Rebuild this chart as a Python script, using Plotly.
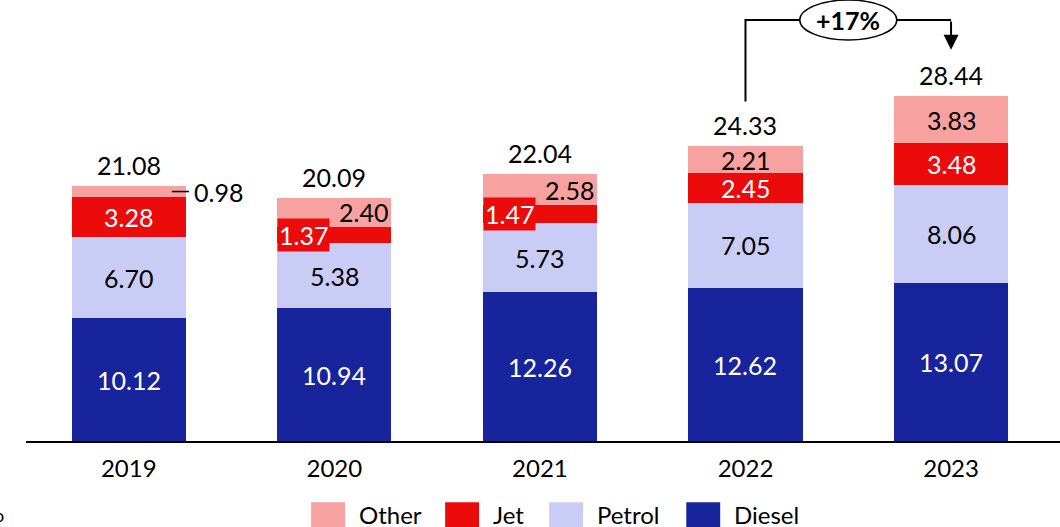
import plotly.graph_objects as go

# --- data ---
years = ["2019", "2020", "2021", "2022", "2023"]
diesel = [10.12, 10.94, 12.26, 12.62, 13.07]
petrol = [6.70, 5.38, 5.73, 7.05, 8.06]
jet = [3.28, 1.37, 1.47, 2.45, 3.48]
other = [0.98, 2.40, 2.58, 2.21, 3.83]
totals = [21.08, 20.09, 22.04, 24.33, 28.44]
growth_label = "+17%"

FONT = "Lato"
BAR_W = 0.555
LABEL_SIZE = 25

# name, values, colour, label colour (stack order bottom -> top)
series = [
    ("Diesel", diesel, "#18249b", "white"),
    ("Petrol", petrol, "#c9ccf4", "black"),
    ("Jet", jet, "#ec0b0b", "white"),
    ("Other", other, "#f7a1a1", "black"),
]

# segments whose label does not sit in the middle of the bar
special = {
    ("Jet", 1): "left_box",
    ("Jet", 2): "left_box",
    ("Other", 1): "right",
    ("Other", 2): "right",
    ("Other", 0): "outside",
}

x = list(range(len(years)))
fig = go.Figure()
for name, vals, color, _ in series:
    fig.add_trace(go.Bar(
        x=x, y=vals, name=name, width=BAR_W,
        marker={"color": color, "line": {"width": 0}},
        hoverinfo="skip", showlegend=False,
    ))

annotations = []
shapes = []

# segment labels
base = [0.0] * len(years)
for name, vals, color, txt_color in series:
    for i, v in enumerate(vals):
        mid = base[i] + v / 2
        mode = special.get((name, i), "center")
        txt = f"{v:.2f}"
        if mode == "center":
            annotations.append(dict(x=i, y=mid, text=txt, showarrow=False,
                                    font={"color": txt_color, "size": LABEL_SIZE}))
        elif mode == "left_box":
            annotations.append(dict(x=i - BAR_W / 2, y=mid, text=txt, showarrow=False,
                                    xanchor="left", bgcolor=color, borderpad=1,
                                    font={"color": "white", "size": LABEL_SIZE}))
        elif mode == "right":
            annotations.append(dict(x=i + BAR_W / 2, y=mid, text=txt, showarrow=False,
                                    xanchor="right", xshift=-1,
                                    font={"color": "black", "size": LABEL_SIZE}))
        elif mode == "outside":
            annotations.append(dict(x=i + BAR_W / 2, y=mid, text=txt, showarrow=False,
                                    xanchor="left", xshift=6,
                                    font={"color": "black", "size": LABEL_SIZE}))
            shapes.append(dict(type="line", xref="x", yref="y",
                               x0=i + BAR_W / 2 - 0.068, x1=i + BAR_W / 2 + 0.015,
                               y0=mid, y1=mid, line={"color": "black", "width": 1.5}))
        base[i] += v

# totals above bars
for i, t in enumerate(totals):
    annotations.append(dict(x=i, y=t, text=f"{t:.2f}", showarrow=False,
                            yanchor="bottom", yshift=4,
                            font={"color": "black", "size": LABEL_SIZE}))

# growth bracket 2022 -> 2023
bracket_y = 34.75
start_y = totals[3] + 3.7
tip_y = totals[4] + 3.85
ell_half_w = 0.236
ell_half_h = 1.65
mid_x = 3.5
line_style = {"color": "black", "width": 2}
shapes.append(dict(type="path", xref="x", yref="y",
                   path=f"M 3,{start_y} L 3,{bracket_y} L {mid_x - ell_half_w},{bracket_y}",
                   line=line_style))
shapes.append(dict(type="line", xref="x", yref="y",
                   x0=mid_x + ell_half_w, x1=4, y0=bracket_y, y1=bracket_y,
                   line=line_style))
shapes.append(dict(type="circle", xref="x", yref="y",
                   x0=mid_x - ell_half_w, x1=mid_x + ell_half_w,
                   y0=bracket_y - ell_half_h, y1=bracket_y + ell_half_h,
                   line={"color": "black", "width": 1.5}, fillcolor="white"))
annotations.append(dict(x=4, y=tip_y, ax=4, ay=bracket_y, axref="x", ayref="y",
                        xref="x", yref="y", text="", showarrow=True,
                        arrowhead=2, arrowsize=1.5, arrowwidth=2, arrowcolor="black",
                        standoff=0))
annotations.append(dict(x=mid_x, y=bracket_y, text=f"<b>{growth_label}</b>",
                        showarrow=False, font={"color": "black", "size": 25}))

# manual legend below the axis (large square swatches), x in axis units
legend_names = ["Other", "Jet", "Petrol", "Diesel"]
legend_x = [0.887, 1.539, 2.045, 2.712]
colors = {name: color for name, _, color, _ in series}
for name, lx in zip(legend_names, legend_x):
    shapes.append(dict(type="rect", xref="x", yref="paper",
                       x0=lx, x1=lx + 0.165, y0=-0.21, y1=-0.139,
                       fillcolor=colors[name], line={"width": 0}))
    annotations.append(dict(x=lx + 0.222, y=-0.167, xref="x", yref="paper",
                            text=name, showarrow=False,
                            xanchor="left", yanchor="middle",
                            font={"color": "black", "size": 24}))

# cut-off text at the far left edge
annotations.append(dict(x=-0.0193, y=-0.168, xref="paper", yref="paper", text="o",
                        showarrow=False, xanchor="right", yanchor="middle",
                        font={"color": "black", "size": 18}))

fig.update_layout(
    barmode="stack",
    width=1060, height=527,
    margin={"l": 26, "r": 0, "t": 0, "b": 86},
    plot_bgcolor="white", paper_bgcolor="white",
    font={"family": FONT, "color": "black"},
    showlegend=False,
    annotations=annotations,
    shapes=shapes,
)
fig.update_xaxes(range=[-0.5, 4.53], tickvals=x, ticktext=years,
                 showline=True, linecolor="black", linewidth=2,
                 showgrid=False, zeroline=False, ticks="",
                 tickfont={"size": 24}, ticklabelstandoff=5)
fig.update_yaxes(range=[0, 36.4], visible=False, showgrid=False)

fig.write_html("out.html", config={"displayModeBar": False},
               post_script="document.body.style.margin='0';")
